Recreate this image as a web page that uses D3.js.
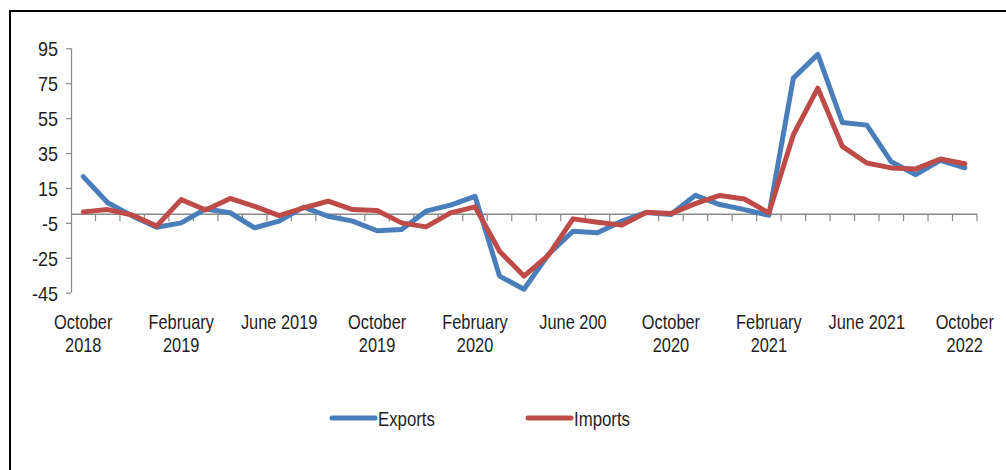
<!DOCTYPE html>
<html>
<head>
<meta charset="utf-8">
<script src="https://cdn.jsdelivr.net/npm/d3@7/dist/d3.min.js"></script>
<style>
  html, body { margin: 0; padding: 0; background: #fff; }
  svg { display: block; }
  text { font-family: "Liberation Sans", Arial, sans-serif; fill: #1e1e1e; }
</style>
</head>
<body>
<svg id="chart" width="1006" height="470"></svg>
<script>
// ---- data ----
const months = [
  "Oct 2018","Nov 2018","Dec 2018","Jan 2019","Feb 2019","Mar 2019","Apr 2019","May 2019",
  "Jun 2019","Jul 2019","Aug 2019","Sep 2019","Oct 2019","Nov 2019","Dec 2019","Jan 2020",
  "Feb 2020","Mar 2020","Apr 2020","May 2020","Jun 2020","Jul 2020","Aug 2020","Sep 2020",
  "Oct 2020","Nov 2020","Dec 2020","Jan 2021","Feb 2021","Mar 2021","Apr 2021","May 2021",
  "Jun 2021","Jul 2021","Aug 2021","Sep 2021","Oct 2021"
];
const exportsVals = [21.5, 6.5, -1, -7.5, -5, 3, 0.8, -7.8, -4, 4, -1.2, -4, -9.5, -8.8, 1.7, 5.2,
  10.2, -35.5, -43, -23, -9.8, -10.7, -4, 1, -0.2, 10.8, 5.5, 2.6, -0.6, 77.9, 91.5, 52.5,
  51, 30, 22.6, 30.8, 26.5];
const importsVals = [1.3, 2.6, -0.5, -6.8, 8.3, 2.4, 9, 4.5, -0.8, 3.6, 7.4, 2.6, 2.1, -5, -7.3, 0.7,
  4.2, -21.2, -35.5, -23.5, -2.7, -4.6, -6.3, 1.1, 0.3, 6, 10.7, 8.7, 0.7, 45.5, 72.2, 38.8,
  29.3, 26.5, 25.9, 31.6, 28.9];
const yTicks = [95, 75, 55, 35, 15, -5, -25, -45];
const xTickIndex = [0, 4, 8, 12, 16, 20, 24, 28, 32, 36];
const xTickLabels = [
  ["October", "2018"], ["February", "2019"], ["June 2019"], ["October", "2019"],
  ["February", "2020"], ["June 200"], ["October", "2020"], ["February", "2021"],
  ["June 2021"], ["October", "2022"]
];
const seriesNames = ["Exports", "Imports"];
const seriesColors = ["#4a7ebb", "#be4b48"];

// ---- layout ----
const svg = d3.select("#chart");
const plotLeft = 71, plotRight = 977, plotTop = 48.3, plotBottom = 292.7;
const squeeze = 0.82;

// frame
svg.append("rect").attr("x", 10).attr("y", 11).attr("width", 1100).attr("height", 600)
  .attr("fill", "none").attr("stroke", "#000").attr("stroke-width", 2);

const x = d3.scaleBand().domain(d3.range(months.length)).range([plotLeft, plotRight]).padding(0);
const y = d3.scaleLinear().domain([-45, 95]).range([plotBottom, plotTop]);
const cx = i => x(i) + x.bandwidth() / 2;

const axisColor = "#8a8a8a";

// y axis
const yAxis = svg.append("g").attr("transform", `translate(${plotLeft},0)`)
  .call(d3.axisLeft(y).tickValues(yTicks).tickSize(5).tickFormat(d => String(d)));
yAxis.attr("font-family", null).attr("font-size", null);
yAxis.select(".domain").attr("stroke", axisColor).attr("stroke-width", 1.2)
  .attr("d", `M0.5,${plotTop}V${plotBottom}`);
yAxis.selectAll(".tick line").attr("stroke", axisColor).attr("stroke-width", 1.2);
yAxis.selectAll(".tick text").attr("font-size", 20).attr("fill", "#1e1e1e")
  .attr("x", null).attr("dy", null)
  .attr("transform", "translate(-13,7.5) scale(0.9,1)");

// x axis at zero
const y0 = y(0);
svg.append("line").attr("x1", plotLeft).attr("x2", plotRight).attr("y1", y0).attr("y2", y0)
  .attr("stroke", axisColor).attr("stroke-width", 1.5);
const boundaries = d3.range(1, months.length + 1).map(k => (k < months.length ? x(k) : plotRight));
svg.append("g").selectAll("line").data(boundaries).join("line")
  .attr("x1", d => d).attr("x2", d => d).attr("y1", y0).attr("y2", y0 + 7)
  .attr("stroke", axisColor).attr("stroke-width", 1.2);

// x labels
const xl = svg.append("g");
xTickIndex.forEach((idx, j) => {
  const t = xl.append("text").attr("text-anchor", "middle").attr("font-size", 20)
    .attr("transform", `translate(${cx(idx)},329) scale(${squeeze},1)`);
  xTickLabels[j].forEach((line, k) => {
    t.append("tspan").attr("x", 0).attr("dy", k === 0 ? 0 : 23).text(line);
  });
});

// lines
const lineGen = d3.line().x((d, i) => cx(i)).y(d => y(d));
[exportsVals, importsVals].forEach((vals, s) => {
  svg.append("path").datum(vals).attr("d", lineGen)
    .attr("fill", "none").attr("stroke", seriesColors[s]).attr("stroke-width", 5)
    .attr("stroke-linejoin", "round").attr("stroke-linecap", "round");
});

// legend
const legendX = [332, 528];
seriesNames.forEach((name, s) => {
  const g = svg.append("g").attr("transform", `translate(${legendX[s]},418)`);
  g.append("line").attr("x1", 0).attr("x2", 43).attr("y1", 0).attr("y2", 0)
    .attr("stroke", seriesColors[s]).attr("stroke-width", 5).attr("stroke-linecap", "round");
  g.append("text").attr("font-size", 20)
    .attr("transform", `translate(46,8) scale(0.84,1)`).text(name);
});
</script>
</body>
</html>
